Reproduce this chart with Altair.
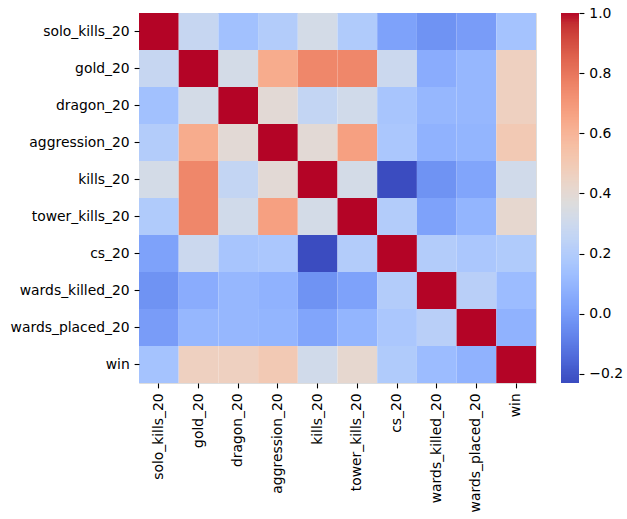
import altair as alt
import pandas as pd
import numpy as np

features = ["solo_kills_20", "gold_20", "dragon_20", "aggression_20", "kills_20",
            "tower_kills_20", "cs_20", "wards_killed_20", "wards_placed_20", "win"]

# Correlation matrix rows (same order as features)
solo_kills_20 = [1.00, 0.27, 0.14, 0.20, 0.32, 0.19, 0.02, -0.03, 0.00, 0.15]
gold_20 = [0.27, 1.00, 0.32, 0.63, 0.75, 0.75, 0.29, 0.06, 0.10, 0.46]
dragon_20 = [0.14, 0.32, 1.00, 0.39, 0.26, 0.31, 0.16, 0.10, 0.10, 0.46]
aggression_20 = [0.20, 0.63, 0.39, 1.00, 0.39, 0.67, 0.17, 0.08, 0.09, 0.50]
kills_20 = [0.32, 0.75, 0.26, 0.39, 1.00, 0.32, -0.23, -0.03, 0.03, 0.31]
tower_kills_20 = [0.19, 0.75, 0.31, 0.67, 0.32, 1.00, 0.20, 0.02, 0.09, 0.41]
cs_20 = [0.02, 0.29, 0.16, 0.17, -0.23, 0.20, 1.00, 0.20, 0.17, 0.19]
wards_killed_20 = [-0.03, 0.06, 0.10, 0.08, -0.03, 0.02, 0.20, 1.00, 0.22, 0.12]
wards_placed_20 = [0.00, 0.10, 0.10, 0.09, 0.03, 0.09, 0.17, 0.22, 1.00, 0.08]
win = [0.15, 0.46, 0.46, 0.50, 0.31, 0.41, 0.19, 0.12, 0.08, 1.00]

rows = [solo_kills_20, gold_20, dragon_20, aggression_20, kills_20,
        tower_kills_20, cs_20, wards_killed_20, wards_placed_20, win]

colorbar_ticks = [-0.2, 0.0, 0.2, 0.4, 0.6, 0.8, 1.0]

records = []
for rname, vals in zip(features, rows):
    for cname, v in zip(features, vals):
        records.append({"row": rname, "col": cname, "r": v})
df = pd.DataFrame(records)

vmin, vmax = -0.23, 1.0

# coolwarm colour stops
coolwarm = ["#3b4cc0", "#445acc", "#4f69d9", "#5977e3", "#6485ec", "#6f92f3",
            "#7b9ff9", "#86a9fc", "#92b4fe", "#9ebeff", "#aac7fd", "#b5cdfa",
            "#c0d4f5", "#cad8ef", "#d4dbe6", "#dddcdc", "#e5d8d1", "#ecd3c5",
            "#f1ccb8", "#f4c5ad", "#f6bda2", "#f7b396", "#f7a889", "#f59c7d",
            "#f29072", "#ed8366", "#e7745b", "#e16751", "#d85646", "#cf453c",
            "#c43032", "#b40426"]
stops = list(np.linspace(vmin, vmax, len(coolwarm)))
color_scale = alt.Scale(domain=stops, range=coolwarm, interpolate="rgb", clamp=True)

font = "DejaVu Sans"
fs = 13.9
W, H = 397, 370

heat = alt.Chart(df).mark_rect(strokeWidth=0).encode(
    x=alt.X("col:N", sort=features, title=None,
            scale=alt.Scale(paddingInner=0, paddingOuter=0),
            axis=alt.Axis(labelAngle=270, domain=False, tickColor="black",
                          tickSize=4.9, tickWidth=1.1, labelPadding=4.9,
                          labelFont=font, labelFontSize=fs, labelColor="black")),
    y=alt.Y("row:N", sort=features, title=None,
            scale=alt.Scale(paddingInner=0, paddingOuter=0),
            axis=alt.Axis(domain=False, tickColor="black", tickSize=4.9,
                          tickWidth=1.1, labelPadding=4.9, labelFont=font,
                          labelFontSize=fs, labelColor="black")),
    color=alt.Color("r:Q", scale=color_scale, legend=None),
)

# colour bar drawn as a stack of thin slices
step = 0.005
cb_vals = np.arange(vmin, vmax, step)
cb = pd.DataFrame({"r": cb_vals, "r2": np.minimum(cb_vals + step * 1.6, vmax)})

bar = alt.Chart(cb).mark_rect(strokeWidth=0).encode(
    x=alt.value(422), x2=alt.value(440),
    y=alt.Y("r:Q", title=None,
            scale=alt.Scale(domain=[vmin, vmax], nice=False, zero=False),
            axis=alt.Axis(orient="right", offset=43, values=colorbar_ticks,
                          format=".1f", domain=False, grid=False,
                          tickColor="black", tickSize=4.9, tickWidth=1.1,
                          labelPadding=4.9, labelFont=font, labelFontSize=fs,
                          labelColor="black")),
    y2="r2:Q",
    color=alt.Color("r:Q", scale=color_scale, legend=None),
)

chart = alt.layer(heat, bar).resolve_scale(
    x="independent", y="independent"
).properties(
    width=W, height=H,
    autosize=alt.AutoSizeParams(type="none"),
    padding={"left": 139, "top": 13, "right": 627 - 139 - W, "bottom": 519 - 13 - H},
).configure_view(strokeWidth=0).configure(background="white")

chart.save("out.html", embed_options={"renderer": "svg", "actions": False})
